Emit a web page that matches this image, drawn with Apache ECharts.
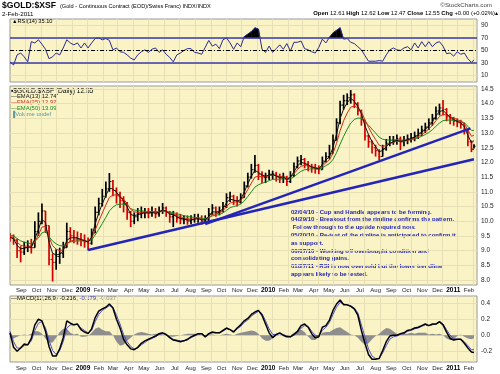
<!DOCTYPE html>
<html><head><meta charset="utf-8">
<script src="https://cdn.jsdelivr.net/npm/echarts@6/dist/echarts.min.js"></script>
<style>html,body{margin:0;padding:0;background:#fff}#c{width:500px;height:374px}</style>
</head><body><div id="c"></div>
<script>
// ---- weekly values (Fridays from 1 Aug 2008, last point 2 Feb 2011) ----
const close = [
9.45,9.35,9.0,8.95,9.1,9.15,9.1,9.65,10.0,10.35,
9.85,8.7,8.6,8.8,8.9,9.1,9.65,9.5,9.45,9.4,
9.35,9.3,9.25,9.6,10.3,10.6,10.85,11.1,11.35,11.05,
10.9,10.7,10.6,10.3,10.0,10.15,10.25,10.3,10.3,10.28,
10.32,10.25,10.35,10.45,10.3,10.15,10.2,10.1,10.05,10.05,
10.0,10.05,10.1,10.1,10.0,10.05,10.25,10.45,10.3,10.35,
10.5,10.8,10.85,10.7,10.65,10.8,11.2,11.5,11.75,11.9,
11.6,11.5,11.5,11.6,11.6,11.5,11.45,11.5,11.35,11.55,
11.85,12.05,12.1,11.95,11.85,11.8,11.78,11.75,12.05,12.2,
12.3,12.75,13.35,13.95,14.1,14.2,14.3,14.0,13.75,13.45,
12.9,12.7,12.5,12.4,12.2,12.45,12.65,12.75,12.75,12.8,
12.7,12.75,12.8,12.85,12.9,13.0,13.1,13.2,13.35,13.5,
13.75,13.85,13.8,13.55,13.45,13.4,13.35,13.3,13.1,12.7,
12.45,12.55];
const high = [
9.6,9.55,9.4,9.15,9.3,9.35,9.4,10.0,10.3,10.6,
10.35,9.85,8.9,9.05,9.1,9.3,9.95,9.8,9.7,9.65,
9.6,9.55,9.45,9.75,10.5,10.8,11.1,11.35,11.64,11.4,
11.15,11.0,10.85,10.65,10.35,10.3,10.45,10.5,10.45,10.45,
10.5,10.45,10.5,10.62,10.5,10.35,10.35,10.3,10.25,10.2,
10.2,10.2,10.25,10.25,10.2,10.2,10.45,10.58,10.5,10.5,
10.65,10.95,11.0,10.9,10.85,10.95,11.35,11.65,11.95,12.25,
11.95,11.7,11.65,11.75,11.72,11.68,11.62,11.65,11.55,11.7,
12.0,12.2,12.25,12.15,12.05,11.95,11.95,11.9,12.2,12.35,
12.6,12.95,13.5,14.1,14.3,14.35,14.46,14.35,14.05,13.8,
13.45,12.95,12.75,12.6,12.45,12.6,12.8,12.9,12.9,12.95,
12.88,12.9,12.95,13.0,13.05,13.15,13.25,13.35,13.5,13.65,
13.9,14.0,14.12,13.85,13.65,13.55,13.5,13.45,13.35,13.1,
12.75,12.62];
const low = [
9.3,9.2,8.75,8.6,8.85,8.95,8.9,9.1,9.5,9.9,
9.6,8.5,7.95,8.35,8.55,8.75,9.1,9.3,9.25,9.2,
9.15,9.1,9.0,9.2,9.6,10.2,10.5,10.8,11.0,10.85,
10.6,10.45,10.3,10.05,9.8,9.9,10.0,10.1,10.1,10.1,
10.15,10.1,10.15,10.25,10.15,9.95,9.8,9.95,9.9,9.9,
9.88,9.9,9.95,9.95,9.88,9.92,10.0,10.2,10.15,10.2,
10.3,10.45,10.65,10.55,10.5,10.6,10.8,11.15,11.45,11.65,
11.4,11.3,11.3,11.4,11.42,11.35,11.3,11.3,11.2,11.3,
11.5,11.8,11.9,11.8,11.7,11.65,11.62,11.6,11.75,12.0,
12.1,12.3,12.75,13.3,13.8,13.95,14.0,13.85,13.6,13.25,
12.75,12.5,12.3,12.2,12.08,12.2,12.4,12.55,12.6,12.6,
12.42,12.55,12.62,12.68,12.72,12.8,12.9,13.0,13.1,13.25,
13.45,13.6,13.6,13.4,13.3,13.25,13.2,13.15,12.95,12.55,
12.35,12.47];
const ema13 = [
9.45,9.40,9.18,9.06,9.08,9.12,9.11,9.40,9.72,10.06,
9.95,9.28,8.91,8.85,8.88,9.00,9.35,9.43,9.44,9.42,
9.38,9.34,9.29,9.46,9.91,10.28,10.59,10.87,11.13,11.09,
10.99,10.83,10.71,10.49,10.23,10.19,10.22,10.26,10.28,10.28,
10.30,10.27,10.31,10.39,10.34,10.24,10.22,10.15,10.10,10.08,
10.04,10.04,10.07,10.09,10.04,10.05,10.16,10.32,10.31,10.33,
10.42,10.63,10.75,10.72,10.68,10.74,10.99,11.27,11.53,11.73,
11.66,11.57,11.53,11.57,11.59,11.54,11.49,11.50,11.42,11.49,
11.68,11.88,12.00,11.97,11.91,11.85,11.81,11.78,11.93,12.08,
12.20,12.50,12.96,13.49,13.82,14.03,14.18,14.08,13.90,13.66,
13.25,12.95,12.71,12.54,12.36,12.41,12.54,12.65,12.70,12.75,
12.72,12.74,12.77,12.81,12.86,12.94,13.03,13.12,13.24,13.38,
13.58,13.73,13.77,13.65,13.54,13.46,13.40,13.35,13.21,12.93,
12.67,12.74];
const ema25 = [
9.48,9.44,9.29,9.18,9.15,9.15,9.13,9.30,9.53,9.80,
9.82,9.45,9.17,9.05,9.00,9.03,9.23,9.32,9.36,9.37,
9.36,9.34,9.31,9.41,9.70,10.00,10.28,10.55,10.81,10.89,
10.89,10.83,10.75,10.60,10.40,10.32,10.30,10.30,10.30,10.29,
10.30,10.28,10.30,10.35,10.33,10.27,10.25,10.20,10.15,10.12,
10.08,10.07,10.08,10.09,10.06,10.06,10.12,10.23,10.25,10.28,
10.35,10.50,10.62,10.65,10.65,10.70,10.87,11.08,11.30,11.50,
11.53,11.52,11.52,11.55,11.57,11.55,11.52,11.51,11.46,11.49,
11.61,11.76,11.87,11.90,11.88,11.85,11.83,11.80,11.88,11.99,
12.09,12.31,12.65,13.08,13.42,13.68,13.88,13.92,13.86,13.72,
13.45,13.20,12.97,12.78,12.59,12.54,12.58,12.64,12.68,12.72,
12.71,12.72,12.75,12.78,12.82,12.88,12.95,13.03,13.14,13.26,
13.42,13.56,13.64,13.61,13.56,13.51,13.46,13.41,13.31,13.11,
12.89,12.92];
const ema50 = [
9.53,9.50,9.41,9.33,9.29,9.26,9.23,9.31,9.43,9.60,
9.65,9.48,9.32,9.23,9.17,9.16,9.25,9.29,9.32,9.33,
9.33,9.32,9.31,9.36,9.53,9.72,9.92,10.13,10.35,10.48,
10.56,10.58,10.58,10.53,10.43,10.38,10.36,10.35,10.34,10.33,
10.33,10.32,10.33,10.35,10.34,10.31,10.29,10.26,10.22,10.19,
10.16,10.14,10.13,10.12,10.10,10.09,10.12,10.18,10.20,10.23,
10.28,10.37,10.46,10.50,10.53,10.58,10.69,10.84,11.00,11.16,
11.24,11.29,11.33,11.38,11.42,11.43,11.43,11.44,11.42,11.44,
11.51,11.61,11.70,11.75,11.77,11.78,11.78,11.77,11.82,11.89,
11.96,12.10,12.33,12.62,12.89,13.13,13.34,13.46,13.51,13.50,
13.39,13.27,13.13,13.00,12.86,12.79,12.76,12.76,12.76,12.77,
12.76,12.76,12.77,12.78,12.80,12.84,12.89,12.95,13.02,13.11,
13.23,13.34,13.42,13.44,13.44,13.43,13.42,13.40,13.35,13.23,
13.09,13.09];
const rsi = [
32,27,43,46,40,32,64,62,67,60,
52,37,40,46,43,54,67,62,59,62,
54,62,54,62,69,70,67,69,66,51,
54,48,47,43,38,35,43,48,51,47,
52,54,47,51,44,39,32,43,46,50,
53,53,47,46,44,55,66,57,60,53,
67,70,62,52,62,56,72,76,80,86,
84,52,47,57,47,53,59,52,61,49,
63,63,65,53,51,48,46,55,68,62,
71,78,82,86,68,69,63,61,56,51,
42,33,33,33,34,33,43,51,54,51,
50,54,56,51,62,54,64,56,64,56,
62,64,57,45,46,41,48,44,46,37,
31,35.1];
const macd = [
0.03,-0.15,-0.2,-0.16,-0.11,-0.12,-0.04,0.13,0.2,0.18,
0.05,-0.14,-0.26,-0.26,-0.17,-0.03,0.18,0.15,0.13,0.14,
0.07,0.04,0.02,0.08,0.22,0.3,0.33,0.35,0.39,0.34,
0.2,0.09,-0.05,-0.12,-0.17,-0.18,-0.15,-0.1,-0.07,-0.05,
-0.03,-0.01,0.02,0.03,0.01,-0.03,-0.06,-0.07,-0.08,-0.07,
-0.05,-0.02,0.0,0.02,0.02,-0.02,0.02,0.04,0.03,0.03,
0.06,0.09,0.07,0.04,0.09,0.13,0.18,0.21,0.26,0.29,
0.31,0.25,0.14,0.03,-0.03,0.01,0.03,0.0,-0.02,-0.02,
0.01,0.05,0.12,0.14,0.1,0.02,-0.03,-0.02,0.1,0.12,
0.19,0.31,0.39,0.44,0.38,0.38,0.36,0.33,0.25,0.06,
-0.1,-0.24,-0.3,-0.3,-0.29,-0.19,-0.08,-0.01,0.0,0.0,
0.02,0.03,0.06,0.07,0.09,0.1,0.12,0.14,0.12,0.14,
0.14,0.17,0.13,0.04,-0.04,-0.06,-0.05,-0.05,-0.1,-0.16,
-0.21,-0.216];
const signal = [
0.05,-0.08,-0.16,-0.16,-0.13,-0.12,-0.07,0.06,0.15,0.17,
0.09,-0.06,-0.19,-0.24,-0.19,-0.08,0.09,0.13,0.13,0.14,
0.09,0.06,0.03,0.06,0.17,0.26,0.31,0.34,0.37,0.35,
0.25,0.14,0.01,-0.08,-0.14,-0.17,-0.16,-0.12,-0.09,-0.06,
-0.04,-0.02,0.01,0.02,0.01,-0.02,-0.05,-0.06,-0.07,-0.07,
-0.06,-0.03,-0.01,0.01,0.02,-0.01,0.01,0.03,0.03,0.03,
0.05,0.08,0.07,0.05,0.08,0.11,0.16,0.19,0.24,0.27,
0.30,0.27,0.18,0.08,0.01,0.01,0.02,0.01,-0.01,-0.02,
0.0,0.03,0.09,0.12,0.11,0.05,0.0,-0.01,0.06,0.10,
0.16,0.26,0.35,0.41,0.39,0.38,0.37,0.34,0.28,0.13,
-0.02,-0.17,-0.26,-0.29,-0.29,-0.22,-0.13,-0.05,-0.02,-0.01,
0.01,0.02,0.05,0.06,0.08,0.09,0.11,0.13,0.12,0.13,
0.14,0.16,0.14,0.07,0.0,-0.04,-0.05,-0.05,-0.08,-0.13,
-0.18,-0.179];
const hist = [
-0.03,-0.04,-0.02,0.0,0.01,0.0,0.02,0.05,0.05,0.02,
-0.04,-0.09,-0.09,-0.03,0.04,0.08,0.08,0.03,0.01,0.02,
-0.02,-0.02,-0.01,0.03,0.08,0.1,0.07,0.05,0.05,0.0,
-0.08,-0.13,-0.12,-0.07,-0.03,0.01,0.03,0.04,0.03,0.02,
0.01,0.02,0.02,0.01,-0.01,-0.02,-0.02,-0.01,0.0,0.01,
0.02,0.02,0.02,0.01,0.0,-0.01,0.01,0.01,0.0,0.0,
0.01,0.02,0.01,0.0,0.02,0.03,0.04,0.05,0.06,0.05,
0.02,-0.04,-0.07,-0.07,-0.04,-0.01,0.0,-0.01,-0.02,0.0,
0.03,0.06,0.07,0.04,-0.02,-0.06,-0.06,-0.02,0.03,0.04,
0.04,0.07,0.09,0.1,0.07,0.04,0.01,0.0,-0.03,-0.08,
-0.12,-0.1,-0.05,-0.01,0.02,0.06,0.09,0.08,0.05,0.02,
0.01,0.02,0.02,0.03,0.02,0.03,0.03,0.03,0.01,0.02,
0.01,0.02,0.0,-0.04,-0.06,-0.05,-0.01,0.01,-0.02,-0.04,
-0.05,-0.037];
// trendlines [date, price]
const trendLong  = [['2009-01-02', 9.02], ['2011-02-02', 12.11]];
const trendSteep = [['2009-08-21', 9.90], ['2011-01-26', 13.16]];
// tick labels
const priceTicks = [8.0,8.5,9.0,9.5,10.0,10.5,11.0,11.5,12.0,12.5,13.0,13.5,14.0,14.5];
const rsiTicks = [10,30,50,70,90];
const macdTicks = [-0.2,0.0,0.2,0.4];
const monthLabels = ['Sep','Oct','Nov','Dec','2009','Feb','Mar','Apr','May','Jun','Jul','Aug','Sep','Oct','Nov','Dec',
  '2010','Feb','Mar','Apr','May','Jun','Jul','Aug','Sep','Oct','Nov','Dec','2011','Feb'];
const notes = [
 '02/04/10 - Cup and Handle appears to be forming.',
 '04/29/10 - Breakout from the rimline confirms the pattern.',
 ' Follow through to the upside required now.',
 '05/20/10 - Re-test of the rimline is anticipated to confirm it',
 'as support.',
 '06/07/10 - Working off overbought condition and',
 'consolidating gains.',
 '01/27/11 - RSI is now oversold but the lower trendline',
 'appears likely to be tested.'];

// ---- build ----
const DAY = 864e5;
const weeks = [];
for (let k = 0; k < 131; k++) weeks.push(Date.UTC(2008, 7, 1) + k * 7 * DAY);
weeks.push(Date.UTC(2011, 1, 2));
const monthTicks = monthLabels.map((s, i) => Date.UTC(2008, 8 + i, 1));
const labelOf = {};
monthTicks.forEach((t, i) => { labelOf[t] = monthLabels[i]; });
const ts = d => Date.parse(d + 'T00:00:00Z');
const pair = arr => arr.map((v, i) => [weeks[i], v]);
const ohlc = close.map((c, i) => [weeks[i], i ? close[i - 1] : 9.5, c, low[i], high[i]]);

const FONT = 'Liberation Sans, Arial, sans-serif';
const BG = '#f9f3c6';
const GRIDC = '#e7e0b6';
const grids = [
  {left: 10, top: 19, width: 467, height: 63},
  {left: 10, top: 86, width: 467, height: 199},
  {left: 10, top: 296, width: 467, height: 66}
].map(g => Object.assign(g, {show: true, backgroundColor: BG, borderColor: '#9a9a9a', borderWidth: 1}));

const xAxes = [0, 1, 2].map(g => ({
  type: 'value', gridIndex: g, min: Date.UTC(2008, 7, 1), max: Date.UTC(2011, 1, 8),
  axisLine: {show: false},
  axisTick: {show: false, customValues: monthTicks},
  splitLine: {show: true, lineStyle: {color: GRIDC, width: 1}},
  axisLabel: {
    show: g > 0, customValues: monthTicks, margin: g === 1 ? 2 : 3,
    fontSize: 6, fontFamily: FONT, color: '#222', padding: [0, 9, 0, 0],
    formatter: v => { const s = labelOf[v] || ''; return /^\d/.test(s) ? '{y|' + s + '}' : s; },
    rich: {y: {fontSize: 6.5, fontWeight: 'bold', fontFamily: FONT, color: '#000'}}
  }
}));
function yAx(g, min, max, ticks, fmt) {
  return {
    type: 'value', gridIndex: g, position: 'right', min, max,
    axisLine: {show: false},
    axisTick: {show: false, customValues: ticks},
    splitLine: {show: true, lineStyle: {color: GRIDC, width: 1}},
    axisLabel: {customValues: ticks, margin: 4, fontSize: 6.5, fontFamily: FONT, color: '#222', formatter: fmt}
  };
}
const yAxes = [
  yAx(0, 0, 100, rsiTicks, v => String(v)),
  yAx(1, 7.83, 14.6, priceTicks, v => v.toFixed(1)),
  yAx(2, -0.334, 0.49, macdTicks, v => v.toFixed(1))
];

// overbought fill: a polygon per segment, between the RSI line and the 70 level
function obRender(params, api) {
  const i = params.dataIndex;
  if (i >= rsi.length - 1) return null;
  const a = rsi[i], b = rsi[i + 1];
  if (a <= 70 && b <= 70) return null;
  const xa = weeks[i], xb = weeks[i + 1];
  let pts = [];
  const cross = (xa + (xb - xa) * (70 - a) / (b - a));
  if (a > 70 && b > 70) pts = [[xa, 70], [xa, a], [xb, b], [xb, 70]];
  else if (a > 70) pts = [[xa, 70], [xa, a], [cross, 70]];
  else pts = [[cross, 70], [xb, b], [xb, 70]];
  return {type: 'polygon', shape: {points: pts.map(p => api.coord(p))}, style: {fill: '#000', stroke: '#000', lineWidth: 0.5}};
}

const series = [
  {
    type: 'custom', xAxisIndex: 1, yAxisIndex: 1, clip: true, silent: true,
    encode: {x: 0, y: [1, 2, 3, 4]}, data: ohlc, z: 2,
    renderItem: (params, api) => {
      const x = api.value(0), o = api.value(1), c = api.value(2), l = api.value(3), h = api.value(4);
      const pH = api.coord([x, h]), pL = api.coord([x, l]), pO = api.coord([x, o]), pC = api.coord([x, c]);
      const col = c >= o ? '#000000' : '#d40000';
      return {type: 'group', children: [
        {type: 'line', shape: {x1: pH[0], y1: pH[1], x2: pL[0], y2: pL[1]}, style: {stroke: col, lineWidth: 1.7}},
        {type: 'line', shape: {x1: pO[0] - 1.5, y1: pO[1], x2: pO[0], y2: pO[1]}, style: {stroke: col, lineWidth: 1.1}},
        {type: 'line', shape: {x1: pC[0], y1: pC[1], x2: pC[0] + 1.5, y2: pC[1]}, style: {stroke: col, lineWidth: 1.1}}
      ]};
    }
  },
  {type: 'line', xAxisIndex: 1, yAxisIndex: 1, data: pair(ema50), symbol: 'none', z: 3,
   lineStyle: {color: '#1e8a1e', width: 1}, silent: true},
  {type: 'line', xAxisIndex: 1, yAxisIndex: 1, data: pair(ema25), symbol: 'none', z: 3,
   lineStyle: {color: '#d42a10', width: 1}, silent: true},
  {type: 'line', xAxisIndex: 1, yAxisIndex: 1, data: pair(ema13), symbol: 'none', z: 3,
   lineStyle: {color: '#111111', width: 1}, silent: true},
  {type: 'line', xAxisIndex: 1, yAxisIndex: 1, data: trendLong.map(p => [ts(p[0]), p[1]]), symbol: 'none', z: 4,
   lineStyle: {color: '#2424b8', width: 2.5}, silent: true},
  {type: 'line', xAxisIndex: 1, yAxisIndex: 1, data: trendSteep.map(p => [ts(p[0]), p[1]]), symbol: 'none', z: 4,
   lineStyle: {color: '#2424b8', width: 2.5}, silent: true},
  // RSI panel
  {type: 'custom', xAxisIndex: 0, yAxisIndex: 0, data: pair(rsi), encode: {x: 0, y: 1},
   renderItem: obRender, silent: true, z: 2, clip: true},
  {type: 'line', xAxisIndex: 0, yAxisIndex: 0, data: pair(rsi), symbol: 'none', z: 4,
   lineStyle: {color: '#2a2a90', width: 1}, silent: true,
   markLine: {silent: true, symbol: 'none', label: {show: false}, animation: false,
     data: [
       {yAxis: 70, lineStyle: {color: '#3a3aa8', width: 1.6, type: 'solid'}},
       {yAxis: 30, lineStyle: {color: '#3a3aa8', width: 1.6, type: 'solid'}},
       {yAxis: 50, lineStyle: {color: '#000', width: 1, type: [4, 2, 1, 2]}}
     ]}},
  // MACD panel
  {type: 'line', xAxisIndex: 2, yAxisIndex: 2, data: pair(hist), symbol: 'none', z: 2,
   lineStyle: {width: 0, opacity: 0}, areaStyle: {color: '#8e8e8e', opacity: 1}, silent: true},
  {type: 'line', xAxisIndex: 2, yAxisIndex: 2, data: pair(signal), symbol: 'none', z: 3,
   lineStyle: {color: '#5050c8', width: 1}, silent: true},
  {type: 'line', xAxisIndex: 2, yAxisIndex: 2, data: pair(macd), symbol: 'none', z: 4,
   lineStyle: {color: '#000', width: 1.5}, silent: true}
];

const T = (x, y, text, font, fill, extra) => ({type: 'text', x, y, silent: true,
  style: Object.assign({text, font, fill, verticalAlign: 'middle'}, extra || {})});
const graphic = [
  T(2, 6, '$GOLD:$XSF', 'bold 8.6px ' + FONT, '#000'),
  T(60, 6.5, '(Gold - Continuous Contract (EOD)/Swiss Franc) INDX/INDX', '5.6px ' + FONT, '#000'),
  T(2, 14, '2-Feb-2011', '6.2px ' + FONT, '#000'),
  T(492, 5, '\u00a9StockCharts.com', '6.2px ' + FONT, '#444', {align: 'right'}),
  {type: 'text', x: 498, y: 13.5, silent: true, style: {
    text: '{b|Open} 12.61 {b|High} 12.62 {b|Low} 12.47 {b|Close} 12.55 {b|Chg} +0.00 (+0.02%)\u25b4',
    font: '5.9px ' + FONT, fill: '#000', align: 'right', verticalAlign: 'middle',
    rich: {b: {font: 'bold 5.9px ' + FONT, fill: '#000'}}}},
  T(12, 21.5, '\u25b2RSI(14) 35.10', '5.6px ' + FONT, '#000'),
  T(11, 90.7, '\u25aa$GOLD:$XSF (Daily) 12.55', '6.6px ' + FONT, '#000'),
  T(11, 96.7, '\u2014EMA(13) 12.74', '5.9px ' + FONT, '#111'),
  T(11, 102.7, '\u2014EMA(25) 12.92', '5.9px ' + FONT, '#d42a10'),
  T(11, 108.4, '\u2014EMA(50) 13.09', '5.9px ' + FONT, '#1e8a1e'),
  T(11, 114, '\u2590Volume undef', '5.9px ' + FONT, '#5a9aa0'),
  {type: 'text', x: 11, y: 298.5, silent: true, style: {
    text: '\u2014MACD(12,26,9) -0.216, {s|-0.179,} {h|-0.037}', font: '5.9px ' + FONT, fill: '#000',
    verticalAlign: 'middle', rich: {s: {fill: '#3a3ac0', font: '5.9px ' + FONT}, h: {fill: '#888', font: '5.9px ' + FONT}}}},
  {type: 'text', x: 291, y: 208, silent: true, style: {
    text: notes.join('\n'), font: 'bold 6px ' + FONT, fill: '#1c1cb0', lineHeight: 7.8, verticalAlign: 'top'}}
];

const chart = echarts.init(document.getElementById('c'), null, {renderer: 'canvas'});
chart.setOption({
  animation: false, backgroundColor: '#fff',
  grid: grids, xAxis: xAxes, yAxis: yAxes, series, graphic
});
</script></body></html>
